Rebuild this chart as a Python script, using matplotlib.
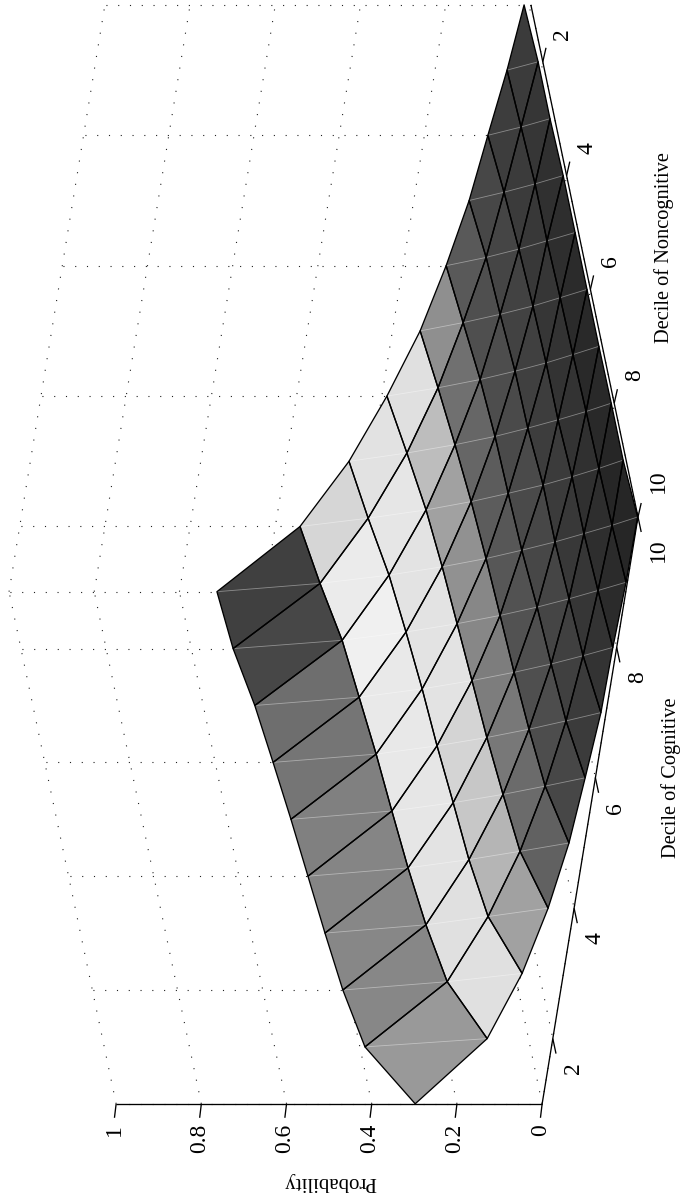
import numpy as np
import matplotlib
matplotlib.use("Agg")
import matplotlib.pyplot as plt
from matplotlib.collections import PolyCollection, LineCollection

plt.rcParams['font.family'] = ['Liberation Serif', 'DejaVu Serif']

deciles_cog = [1, 2, 3, 4, 5, 6, 7, 8, 9, 10]
deciles_non = [10, 9, 8, 7, 6, 5, 4, 3, 2, 1]
z_ticks = [0, 0.2, 0.4, 0.6, 0.8, 1]
z_labels = ["0", "0.2", "0.4", "0.6", "0.8", "1"]
xy_ticks = [2, 4, 6, 8, 10]

# probability, one row per cognitive decile, columns noncog 10 -> 1
prob_c1 = [.298, .388, .412, .426, .438, .450, .464, .479, .502, .512]
prob_c2 = [.154, .220, .242, .256, .266, .275, .287, .299, .323, .342]
prob_c3 = [.097, .149, .166, .175, .185, .192, .202, .214, .235, .252]
prob_c4 = [.061, .099, .111, .121, .128, .135, .142, .152, .169, .188]
prob_c5 = [.037, .065, .075, .082, .087, .092, .099, .109, .121, .135]
prob_c6 = [.024, .041, .048, .053, .061, .065, .068, .075, .087, .099]
prob_c7 = [.012, .026, .031, .036, .036, .044, .046, .053, .058, .070]
prob_c8 = [.009, .016, .021, .021, .026, .026, .029, .034, .041, .051]
prob_c9 = [.003, .008, .011, .013, .016, .018, .021, .021, .026, .031]
prob_c10 = [.001, .007, .007, .008, .008, .008, .008, .011, .011, .016]

# grey level of each patch, same order
grey_c1 = [.60, .53, .53, .52, .50, .46, .43, .37, .28]
grey_c1[-1] = .25
grey_c1[-2] = .28
grey_c2 = [.88, .88, .89, .90, .91, .915, .94, .92, .84]
grey_c3 = [.63, .71, .78, .83, .89, .89, .89, .90, .885]
grey_c4 = [.38, .42, .47, .49, .53, .57, .63, .74, .88]
grey_c5 = [.28, .30, .31, .32, .34, .36, .40, .44, .56]
grey_c6 = [.23, .25, .27, .28, .29, .29, .30, .31, .35]
grey_c7 = [.20, .21, .22, .23, .24, .25, .26, .27, .28]
grey_c8 = [.17, .18, .19, .20, .20, .21, .22, .23, .24]
grey_c9 = [.15, .15, .16, .16, .17, .18, .19, .21, .23]

Z = np.array([prob_c1, prob_c2, prob_c3, prob_c4, prob_c5,
              prob_c6, prob_c7, prob_c8, prob_c9, prob_c10])
G = np.array([grey_c1, grey_c2, grey_c3, grey_c4, grey_c5,
              grey_c6, grey_c7, grey_c8, grey_c9])


def proj(c, n, z):
    # orthographic view, page is turned 90 degrees
    c, n, z = np.asarray(c, float), np.asarray(n, float), np.asarray(z, float)
    x = 638 - 10.65 * (10 - c) - 11.9 * (10 - n) - 426 * z
    y = 517 + 65.2 * (10 - c) - 56.9 * (10 - n)
    return np.stack([x, y], axis=-1)


fig = plt.figure(figsize=(6.81, 12.03), dpi=100)
ax = fig.add_axes([0, 0, 1, 1])
ax.set_xlim(0, 681)
ax.set_ylim(1203, 0)
ax.axis("off")

# dotted box
grid = []
for z in z_ticks:
    grid.append(proj([1, 1], [10, 1], [z, z]))
    grid.append(proj([1, 10], [1, 1], [z, z]))
for n in xy_ticks:
    grid.append(proj([1, 1], [n, n], [0, 1]))
    grid.append(proj([1, 10], [n, n], [0, 0]))
for c in xy_ticks:
    grid.append(proj([c, c], [1, 1], [0, 1]))
    grid.append(proj([c, c], [1, 10], [0, 0]))
grid.append(proj([1, 1], [1, 1], [0, 1]))
ax.add_collection(LineCollection(grid, colors="#222222", linewidths=0.8,
                                 linestyles=[(0, (1.0, 9.6))], zorder=1))

# surface patches, far corner first
polys, cols, seams = [], [], []
for i in range(len(deciles_cog) - 1):
    for j in range(len(deciles_non) - 2, -1, -1):
        c0, c1 = deciles_cog[i], deciles_cog[i + 1]
        n0, n1 = deciles_non[j], deciles_non[j + 1]
        a = proj(c0, n0, Z[i, j])
        b = proj(c1, n0, Z[i + 1, j])
        d = proj(c1, n1, Z[i + 1, j + 1])
        e = proj(c0, n1, Z[i, j + 1])
        polys.append([a, b, d, e])
        cols.append(str(G[i, j]))
        seams.append([b, e])

ax.add_collection(PolyCollection(polys, facecolors=cols, edgecolors="none", zorder=2))
ax.add_collection(LineCollection(seams, colors="white", linewidths=0.6, alpha=0.4, zorder=3))
ax.add_collection(PolyCollection(polys, facecolors="none", edgecolors="black",
                                 linewidths=0.95, zorder=4))

# axes
axis_kw = dict(color="black", lw=0.95, zorder=5, solid_capstyle="butt")
for seg in ([[1, 10, 0], [1, 10, 1]], [[1, 10, 0], [10, 10, 0]], [[10, 10, 0], [10, 1, 0]]):
    p = proj(*np.array(seg).T)
    ax.plot(p[:, 0], p[:, 1], **axis_kw)

for z, lab in zip(z_ticks, z_labels):
    p = proj(1, 10, z)
    ax.plot([p[0], p[0] - 1.7], [p[1], p[1] + 14], **axis_kw)
    ax.text(p[0] - 2, 1124, lab, rotation=90, ha="center", va="top", fontsize=17)

for t in xy_ticks:
    p = proj(t, 10, 0)
    ax.plot([p[0], p[0] + 3.2], [p[1], p[1] + 15], **axis_kw)
    ax.text(p[0] + 20.5, p[1] + (33 if t == 10 else 30), str(t), rotation=90,
            ha="center", va="center", fontsize=17)
    p = proj(10, t, 0)
    ax.plot([p[0], p[0] + 3.2], [p[1], p[1] - 14], **axis_kw)
    ax.text(p[0] + 20, p[1] - (36 if t == 10 else 28), str(t), rotation=90,
            ha="center", va="center", fontsize=17)

ax.text(330, 1182, "Probability", rotation=180, ha="center", va="center", fontsize=15)
ax.text(671, 778, "Decile of Cognitive", rotation=90, ha="center", va="center", fontsize=14.7)
ax.text(664, 248, "Decile of Noncognitive", rotation=90, ha="center", va="center", fontsize=14.7)

fig.savefig("out.png", dpi=100)
